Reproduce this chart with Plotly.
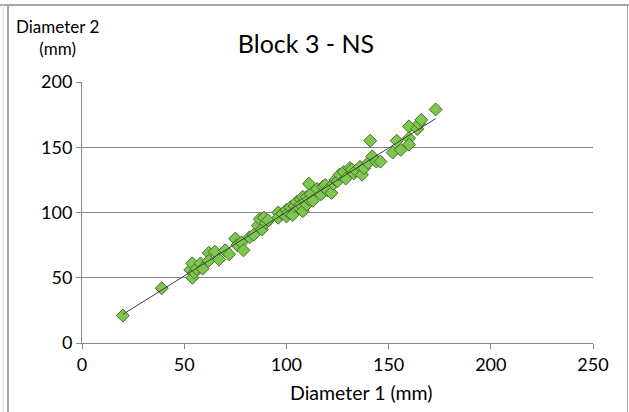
import numpy as np
import plotly.graph_objects as go

# Measured diameters (mm) for Block 3 - NS
diameter_1 = [20, 39, 53, 54, 54, 55, 56, 58, 59, 62, 62, 65, 67, 70, 72, 75, 76, 78, 79, 82,
              84, 86, 87, 88, 89, 90, 91, 96, 96, 98, 100, 100, 101, 102, 103, 104, 105, 106, 107, 107,
              108, 108, 109, 110, 110, 111, 111, 112, 113, 115, 117, 118, 119, 120, 122, 123, 124, 125, 126, 128,
              129, 131, 132, 133, 134, 136, 137, 138, 140, 141, 142, 144, 146, 152, 154, 156, 160, 160, 160, 164,
              165, 166, 173]
diameter_2 = [21, 42, 56, 61, 50, 54, 57, 61, 57, 69, 63, 70, 64, 71, 68, 80, 75, 77, 71, 81,
              83, 90, 95, 87, 96, 92, 94, 100, 96, 99, 97, 102, 100, 104, 98, 105, 108, 104, 110, 106,
              101, 112, 108, 112, 106, 122, 110, 114, 109, 118, 114, 120, 121, 117, 115, 122, 125, 124, 129, 131,
              126, 134, 133, 130, 132, 135, 129, 134, 138, 155, 143, 139, 139, 146, 155, 148, 166, 157, 152, 164,
              168, 171, 179]

x_ticks = [0, 50, 100, 150, 200, 250]
y_ticks = [0, 50, 100, 150, 200]

# Linear trend line through the measurements
slope, intercept = np.polyfit(diameter_1, diameter_2, 1)
trend_x = np.array([min(diameter_1), max(diameter_1)])
trend_y = slope * trend_x + intercept

font_family = "Lato, 'Open Sans', sans-serif"

fig = go.Figure()
fig.add_trace(go.Scatter(
    x=diameter_1, y=diameter_2, mode="markers",
    marker=dict(symbol="diamond", size=10, color="#7cc84e",
                line=dict(color="#4a6b2c", width=1)),
    showlegend=False, hoverinfo="x+y",
))
fig.add_trace(go.Scatter(
    x=trend_x, y=trend_y, mode="lines",
    line=dict(color="#3f3f3f", width=1),
    showlegend=False, hoverinfo="skip",
))

W, H = 629, 412
ml, mr, mt, mb = 82, 36, 82, 69
pw, ph = W - ml - mr, H - mt - mb

def px_x(p):
    return (p - ml) / pw

def px_y(p):
    return (H - mb - p) / ph

fig.update_layout(
    width=W, height=H,
    margin=dict(l=ml, r=mr, t=mt, b=mb),
    paper_bgcolor="white", plot_bgcolor="white",
    font=dict(family=font_family, size=18, color="#000000"),
    title=dict(text="Block 3 - NS", xref="container", x=306 / W, xanchor="center",
               yref="container", y=1 - 44 / H, yanchor="middle",
               font=dict(size=25, family=font_family, color="#000000")),
    xaxis=dict(range=[0, 250], tickvals=x_ticks, showgrid=False, zeroline=False,
               showline=True, linecolor="#868686", linewidth=1,
               ticks="outside", ticklen=5, tickcolor="#868686",
               tickfont=dict(size=18)),
    yaxis=dict(range=[0, 200], tickvals=y_ticks, showgrid=True, gridcolor="#868686",
               gridwidth=1, zeroline=False, showline=True, linecolor="#868686", linewidth=1,
               ticks="outside", ticklen=5, tickcolor="#868686",
               tickfont=dict(size=18)),
    annotations=[
        dict(text="Diameter 2<br>(mm)", xref="paper", yref="paper",
             x=px_x(57), y=px_y(38), xanchor="center", yanchor="middle",
             showarrow=False, align="center",
             font=dict(size=17, family=font_family)),
        dict(text="Diameter 1 (mm)", xref="paper", yref="paper",
             x=px_x(361), y=px_y(392), xanchor="center", yanchor="middle",
             showarrow=False, font=dict(size=19.5, family=font_family)),
    ],
    shapes=[
        dict(type="line", xref="paper", yref="paper", x0=px_x(0), x1=px_x(629),
             y0=px_y(5), y1=px_y(5), line=dict(color="#a6a6a6", width=2)),
        dict(type="line", xref="paper", yref="paper", x0=px_x(8), x1=px_x(8),
             y0=px_y(4), y1=px_y(412), line=dict(color="#a6a6a6", width=2)),
        dict(type="line", xref="paper", yref="paper", x0=px_x(3), x1=px_x(3),
             y0=px_y(4), y1=px_y(412), line=dict(color="#d9d9d9", width=1)),
        dict(type="line", xref="paper", yref="paper", x0=px_x(627.5), x1=px_x(627.5),
             y0=px_y(5), y1=px_y(412), line=dict(color="#a6a6a6", width=1)),
    ],
)

fig.write_html("out.html")
